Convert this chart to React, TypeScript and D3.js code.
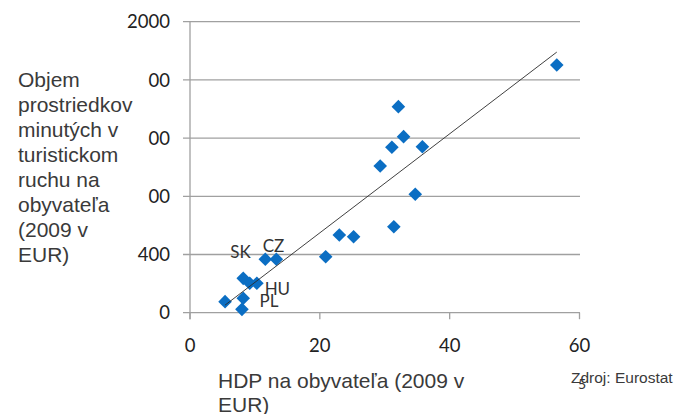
import React from "react";
import * as d3 from "d3";

// GDP per capita (thousand EUR, 2009)
const gdp: number[] = [56.5, 32.1, 32.9, 31.1, 35.8, 29.3, 34.7, 31.4, 23.0, 25.2, 20.9, 11.6, 13.3, 8.2, 9.2, 10.3, 5.4, 8.2, 8.0];
// Tourism expenditure per capita (EUR, 2009)
const tourism: number[] = [1702, 1416, 1210, 1137, 1141, 1008, 814, 591, 534, 522, 385, 367, 367, 236, 202, 202, 76, 99, 23];

const xTicks: number[] = [0, 20, 40, 60];
const yTicks: number[] = [0, 400, 800, 1200, 1600, 2000];
const yTickLabels: string[] = ["0", "400", "00", "00", "00", "2000"];

const countryLabels: { name: string; x: number; y: number }[] = [
  { name: "SK", x: 6.2, y: 374 },
  { name: "CZ", x: 11.2, y: 419 },
  { name: "HU", x: 11.5, y: 122 },
  { name: "PL", x: 10.7, y: 39 },
];

const yTitle: string[] = ["Objem", "prostriedkov", "minutých v", "turistickom", "ruchu na", "obyvateľa", "(2009 v", "EUR)"];
const xTitle: string[] = ["HDP na obyvateľa (2009 v", "EUR)"];

export default function App() {
  const W = 678, H = 414;
  const x = d3.scaleLinear().domain([0, 60]).range([190, 579.5]);
  const y = d3.scaleLinear().domain([0, 2000]).range([312.7, 21.7]);

  // linear regression trendline
  const mx = d3.mean(gdp)!;
  const my = d3.mean(tourism)!;
  let sxy = 0, sxx = 0;
  gdp.forEach((g, i) => { sxy += (g - mx) * (tourism[i] - my); sxx += (g - mx) * (g - mx); });
  const slope = sxy / sxx;
  const intercept = my - slope * mx;
  const [x0, x1] = d3.extent(gdp) as [number, number];
  const trend = d3.line<number>().x((d) => x(d)).y((d) => y(intercept + slope * d))([x0, x1]);

  const diamond = d3.symbol().type(d3.symbolDiamond2).size(118)()!;
  const tickFont = "Lato, 'DejaVu Sans', sans-serif";
  const titleFont = "'Liberation Sans', Arial, sans-serif";

  return (
    <svg width={W} height={H} style={{ position: "absolute", left: 0, top: 0, background: "#fff" }}>
      <rect width={W} height={H} fill="#fff" />
      {yTicks.map((t) => (
        <line key={"g" + t} x1={183} x2={x(60) + 0.5} y1={y(t)} y2={y(t)} stroke="#a0a0a0" strokeWidth={1.3} />
      ))}
      <line x1={x(0)} x2={x(0)} y1={y(2000)} y2={y(0) + 6.5} stroke="#a0a0a0" strokeWidth={1.3} />
      {xTicks.map((t) => (
        <line key={"xt" + t} x1={x(t)} x2={x(t)} y1={y(0)} y2={y(0) + 6.5} stroke="#a0a0a0" strokeWidth={1.3} />
      ))}
      {yTicks.map((t, i) => (
        <text key={"yl" + t} x={170} y={y(t)} dy="0.36em" textAnchor="end" fontFamily={tickFont} fontSize={18.5} fill="#222">
          {yTickLabels[i]}
        </text>
      ))}
      {xTicks.map((t) => (
        <text key={"xl" + t} x={x(t)} y={345} dy="0.36em" textAnchor="middle" fontFamily={tickFont} fontSize={18.5} fill="#222">
          {t}
        </text>
      ))}
      {gdp.map((g, i) => (
        <path key={"p" + i} d={diamond} transform={`translate(${x(g)},${y(tourism[i])})`} fill="#0B6EC3" />
      ))}
      <path d={trend!} fill="none" stroke="#2a2a2a" strokeWidth={0.9} />
      {countryLabels.map((c) => (
        <text key={c.name} x={x(c.x)} y={y(c.y)} fontFamily={tickFont} fontSize={17} fill="#333">
          {c.name}
        </text>
      ))}
      {yTitle.map((line, i) => (
        <text key={"yt" + i} x={18} y={86.5 + i * 25} fontFamily={titleFont} fontSize={21} fill="#3a3a3a">
          {line}
        </text>
      ))}
      {xTitle.map((line, i) => (
        <text key={"xt" + i} x={218} y={388 + i * 24} fontFamily={titleFont} fontSize={21} fill="#3a3a3a">
          {line}
        </text>
      ))}
      <text x={571} y={383} fontFamily={titleFont} fontSize={15.5} fill="#3a3a3a">Zdroj: Eurostat</text>
      <text x={578} y={389} fontFamily={tickFont} fontSize={14} fill="#333">5</text>
    </svg>
  );
}
